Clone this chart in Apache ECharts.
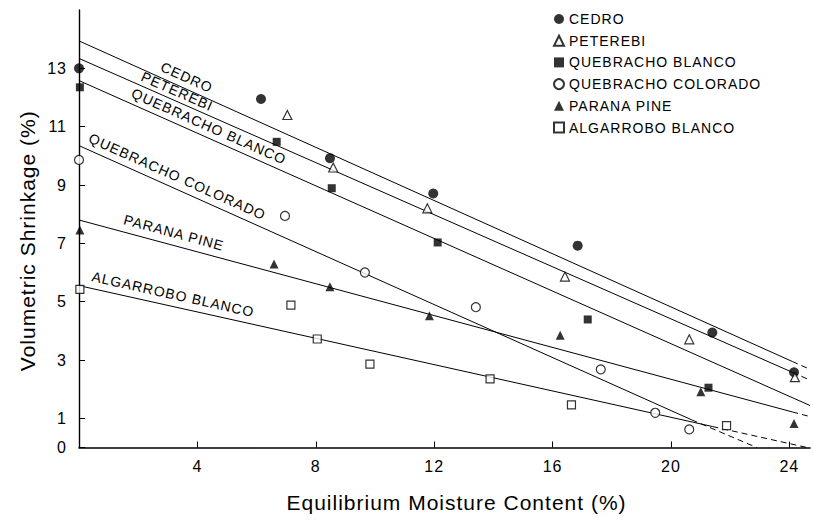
<!DOCTYPE html>
<html><head><meta charset="utf-8">
<script src="https://cdn.jsdelivr.net/npm/echarts@6/dist/echarts.min.js"></script>
<style>
html,body{margin:0;padding:0;background:#fff;}
#c{width:813px;height:521px;}
#c text{letter-spacing:1px;}
</style></head><body><div id="c"></div>
<script>
// ---- data ----
const speciesNames = ['CEDRO','PETEREBI','QUEBRACHO BLANCO','QUEBRACHO COLORADO','PARANA PINE','ALGARROBO BLANCO'];
const xTicks = [4, 8, 12, 16, 20, 24];
const yTicks = [0, 1, 3, 5, 7, 9, 11, 13];

// measured points [EMC %, shrinkage %]
const cedro = [[0,13.0],[6.15,11.95],[8.48,9.92],[11.97,8.71],[16.85,6.92],[21.4,3.94],[24.16,2.58]];
const peterebi = [[7.04,11.4],[8.59,9.6],[11.77,8.2],[16.42,5.86],[20.62,3.71],[24.19,2.41]];
const quebrachoBlanco = [[0.03,12.35],[6.68,10.48],[8.54,8.89],[12.12,7.03],[17.19,4.39],[21.27,2.05],[24.75,1.49]];
const quebrachoColorado = [[0,9.86],[6.96,7.94],[9.66,6.0],[13.41,4.81],[17.63,2.68],[19.47,1.19],[20.62,0.62]];
const paranaPine = [[0.03,7.46],[6.59,6.29],[8.48,5.51],[11.84,4.52],[16.26,3.85],[21.01,1.91],[24.16,0.82]];
const algarroboBlanco = [[0.03,5.42],[7.16,4.88],[8.05,3.72],[9.83,2.86],[13.89,2.35],[16.64,1.46],[21.88,0.75]];

// fitted lines: solid part and dashed extrapolation
const cedroFit = [[0,13.94],[24.1,2.95]];
const cedroExt = [[24.1,2.95],[24.7,2.68]];
const peterebiFit = [[0,13.34],[24.1,2.58]];
const peterebiExt = [[24.1,2.58],[24.7,2.31]];
const quebrachoBlancoFit = [[0,12.58],[24.7,1.44]];
const quebrachoBlancoExt = [];
const quebrachoColoradoFit = [[0,10.35],[20.7,0.95]];
const quebrachoColoradoExt = [[20.7,0.95],[22.9,0]];
const paranaPineFit = [[0,7.8],[24.1,1.22]];
const paranaPineExt = [[24.1,1.22],[24.7,1.06]];
const algarroboBlancoFit = [[0,5.55],[21.4,0.72]];
const algarroboBlancoExt = [[21.4,0.72],[24.6,0]];

// x position (EMC %) along each line where its name is written
const lineLabelX = [3.49, 3.19, 4.24, 3.16, 3.1, 3.09];

// ---- styling ----
const FONT = '"Liberation Sans", Arial, Helvetica, sans-serif';
const points = [cedro, peterebi, quebrachoBlanco, quebrachoColorado, paranaPine, algarroboBlanco];
const fits = [cedroFit, peterebiFit, quebrachoBlancoFit, quebrachoColoradoFit, paranaPineFit, algarroboBlancoFit];
const exts = [cedroExt, peterebiExt, quebrachoBlancoExt, quebrachoColoradoExt, paranaPineExt, algarroboBlancoExt];
const symbols = ['circle','triangle','rect','circle','triangle','rect'];
const filled = [true,false,true,false,true,false];
const sizes = [10,9,8,9,9,8];
const labelOffset = [11, 9.5, 11, 12, 12.5, 12];

const series = [];
speciesNames.forEach((n, i) => {
  series.push({
    name: n, type: 'scatter', data: points[i], symbol: symbols[i], symbolSize: sizes[i], z: 4,
    itemStyle: filled[i] ? {color:'#000'} : {color:'#fff', borderColor:'#000', borderWidth:1.2}
  });
  series.push({
    name: n + ' fit', type: 'line', data: fits[i], symbol: 'none', z: 2, silent: true,
    lineStyle: {color:'#000', width:1}
  });
  if (exts[i].length) series.push({
    name: n + ' ext', type: 'line', data: exts[i], symbol: 'none', z: 2, silent: true,
    lineStyle: {color:'#000', width:1, type:[6,4]}
  });
});

const chart = echarts.init(document.getElementById('c'), null, {renderer:'svg'});
chart.setOption({
  animation: false,
  backgroundColor: '#fff',
  textStyle: {fontFamily: FONT, color:'#000'},
  grid: {left:79, right:3, top:10, bottom:73.5},
  legend: {
    data: speciesNames, orient:'vertical', left: 548, top: 7,
    itemWidth: 10, itemHeight: 10, itemGap: 7.7, selectedMode: false,
    textStyle: {fontSize:14, color:'#000', fontFamily: FONT}
  },
  xAxis: {
    type:'value', min:0, max:24.7,
    name:'Equilibrium Moisture Content (%)', nameLocation:'middle', nameGap:44,
    nameTextStyle:{fontSize:21, color:'#000', fontFamily:FONT, padding:[0,0,0,24]},
    axisLine:{lineStyle:{color:'#000', width:1.6}},
    axisTick:{show:true, inside:true, length:6, customValues:xTicks, lineStyle:{color:'#000'}},
    axisLabel:{customValues:xTicks, fontSize:16, color:'#000', margin:11, fontFamily:FONT},
    splitLine:{show:false}
  },
  yAxis: {
    type:'value', min:0, max:15,
    name:'Volumetric Shrinkage (%)', nameLocation:'middle', nameGap:36,
    nameTextStyle:{fontSize:21, color:'#000', fontFamily:FONT, padding:[0,24,0,0]},
    axisLine:{show:true, lineStyle:{color:'#000', width:1.4}},
    axisTick:{show:true, inside:true, length:6, customValues:yTicks, lineStyle:{color:'#000'}},
    axisLabel:{customValues:yTicks, fontSize:16, color:'#000', margin:12, fontFamily:FONT},
    splitLine:{show:false}
  },
  series: series
});

// names written along the fitted lines
function lineY(fit, x) {
  const [a, b] = fit;
  return a[1] + (b[1] - a[1]) * (x - a[0]) / (b[0] - a[0]);
}
const graphics = speciesNames.map((n, i) => {
  const fit = fits[i];
  const p1 = chart.convertToPixel({gridIndex:0}, fit[0]);
  const p2 = chart.convertToPixel({gridIndex:0}, fit[1]);
  const ang = Math.atan2(p2[1]-p1[1], p2[0]-p1[0]);
  const x = lineLabelX[i];
  const p = chart.convertToPixel({gridIndex:0}, [x, lineY(fit, x)]);
  const d = labelOffset[i];
  return {
    type:'text', x: p[0] + d*Math.sin(ang), y: p[1] - d*Math.cos(ang), rotation: -ang, z: 10,
    style:{text:n, font:'14px ' + FONT, fill:'#000', textAlign:'center', textVerticalAlign:'middle'}
  };
});
chart.setOption({graphic: graphics});
</script></body></html>
